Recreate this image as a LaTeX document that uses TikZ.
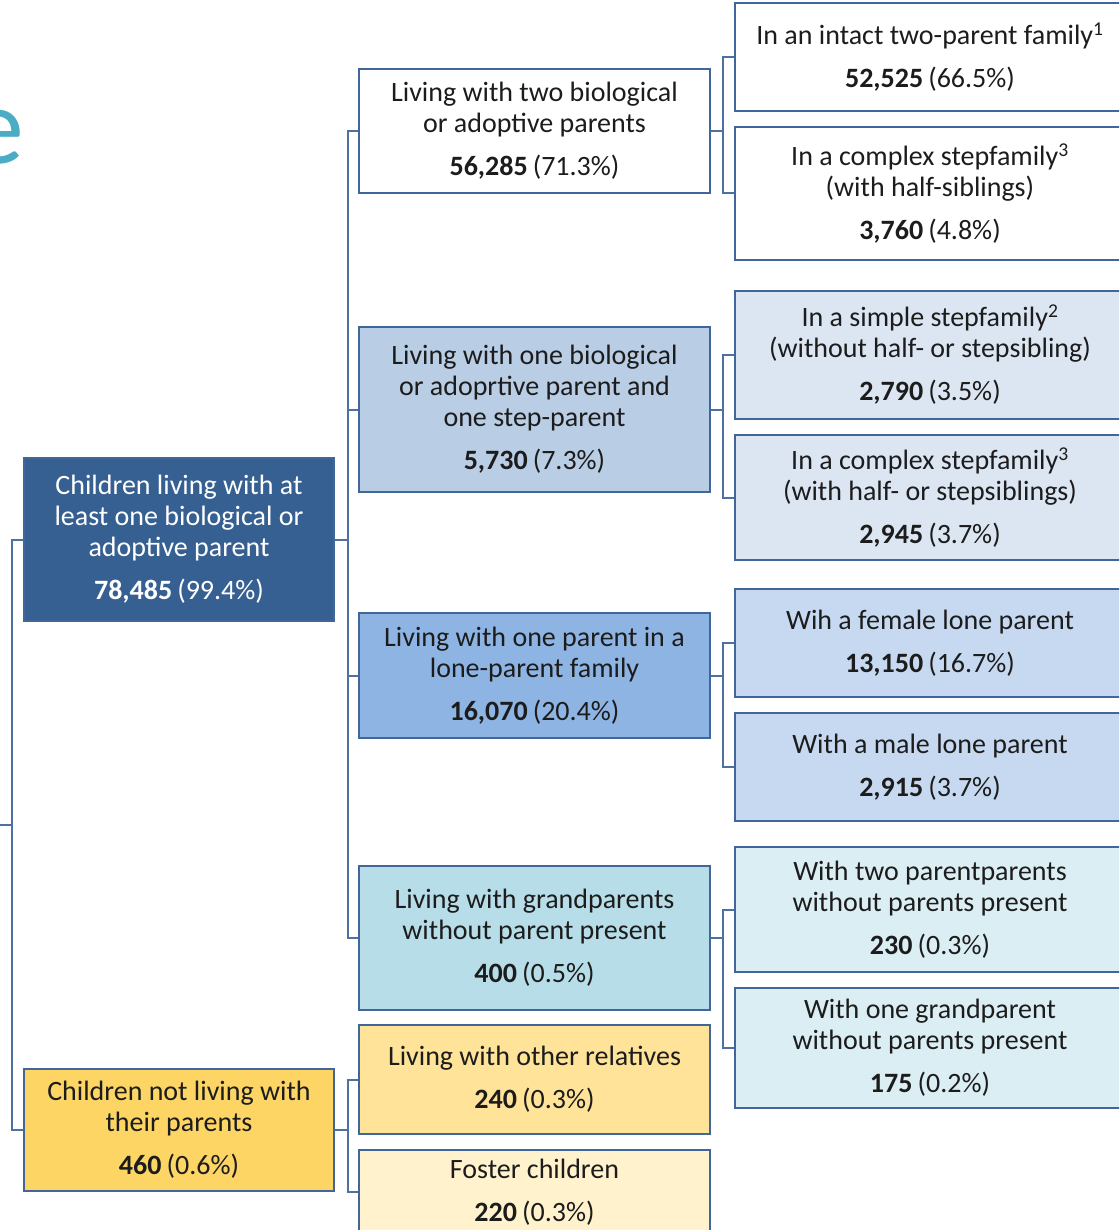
\documentclass[tikz,border=0pt]{standalone}
\usepackage{fontspec}
\setmainfont{Carlito}
\definecolor{boxline}{HTML}{41679A}
\definecolor{linkblue}{HTML}{4F71A2}
\definecolor{textdark}{HTML}{1C1C1C}
\definecolor{titlecyan}{HTML}{4BACC6}
\definecolor{rootblue}{HTML}{376092}
\definecolor{rootgold}{HTML}{FCD564}
\definecolor{stepblue}{HTML}{B9CDE5}
\definecolor{loneblue}{HTML}{8EB4E3}
\definecolor{grandcyan}{HTML}{B7DDE8}
\definecolor{relgold}{HTML}{FEE398}
\definecolor{fostercream}{HTML}{FFF2CC}
\definecolor{palestep}{HTML}{DCE6F2}
\definecolor{palelone}{HTML}{C6D9F1}
\definecolor{palegrand}{HTML}{DBEEF4}
\newcommand{\tally}[2]{\textbf{#1}\hspace{0.18em}(#2)}

\begin{document}
\begin{tikzpicture}[x=1pt, y=-1pt,
	box/.style={draw=boxline, line width=1.3pt, align=center, inner sep=0pt, text=textdark, font=\fontsize{28}{31}\selectfont},
	leftbox/.style={box, minimum width=310pt},
	midbox/.style={box, minimum width=351pt},
	rightbox/.style={box, minimum width=390pt},
	link/.style={draw=linkblue, line width=2pt}]
	\useasboundingbox (0,0) rectangle (1119,1230);
	\clip (0,0) rectangle (1119,1230);
	\node[text=titlecyan, font=\fontsize{110}{110}\selectfont, anchor=base east, inner sep=0pt] (title) at (24,164) {e};
	\node[leftbox, fill=rootblue, text=white, minimum height=163pt] (inpar) at (179,539.5) {Children living with at\\least one biological or\\adoptive parent\\[12pt]\tally{78,485}{99.4\%}};
	\node[leftbox, fill=rootgold, minimum height=122pt] (notpar) at (179,1130) {Children not living with\\their parents\\[12pt]\tally{460}{0.6\%}};
	\node[midbox, fill=white, minimum height=124pt] (twobio) at (534.5,131) {Living with two biological\\or adoptive parents\\[12pt]\tally{56,285}{71.3\%}};
	\node[midbox, fill=stepblue, minimum height=165pt] (stepp) at (534.5,409.5) {Living with one biological\\or adoprtive parent and\\one step-parent\\[12pt]\tally{5,730}{7.3\%}};
	\node[midbox, fill=loneblue, minimum height=125pt] (lone) at (534.5,675.5) {Living with one parent in a\\lone-parent family\\[12pt]\tally{16,070}{20.4\%}};
	\node[midbox, fill=grandcyan, minimum height=144pt] (grand) at (534.5,938) {Living with grandparents\\without parent present\\[12pt]\tally{400}{0.5\%}};
	\node[midbox, fill=relgold, minimum height=109pt] (other) at (534.5,1079.5) {Living with other relatives\\[12pt]\tally{240}{0.3\%}};
	\node[midbox, fill=fostercream, minimum height=84pt] (foster) at (534.5,1192) {Foster children\\[12pt]\tally{220}{0.3\%}};
	\node[rightbox, fill=white, minimum height=108pt] (intact) at (930,57) {In an intact two-parent family\textsuperscript{1}\\[12pt]\tally{52,525}{66.5\%}};
	\node[rightbox, fill=white, minimum height=133pt] (cplxhalf) at (930,193.5) {In a complex stepfamily\textsuperscript{3}\\(with half-siblings)\\[12pt]\tally{3,760}{4.8\%}};
	\node[rightbox, fill=palestep, minimum height=128pt] (simple) at (930,355) {In a simple stepfamily\textsuperscript{2}\\(without half- or stepsibling)\\[12pt]\tally{2,790}{3.5\%}};
	\node[rightbox, fill=palestep, minimum height=125pt] (cplxstep) at (930,497.5) {In a complex stepfamily\textsuperscript{3}\\(with half- or stepsiblings)\\[12pt]\tally{2,945}{3.7\%}};
	\node[rightbox, fill=palelone, minimum height=108pt] (female) at (930,643) {Wih a female lone parent\\[12pt]\tally{13,150}{16.7\%}};
	\node[rightbox, fill=palelone, minimum height=108pt] (male) at (930,767) {With a male lone parent\\[12pt]\tally{2,915}{3.7\%}};
	\node[rightbox, fill=palegrand, minimum height=125pt] (twogp) at (930,909.5) {With two parentparents\\without parents present\\[12pt]\tally{230}{0.3\%}};
	\node[rightbox, fill=palegrand, minimum height=120pt] (onegp) at (930,1048) {With one grandparent\\without parents present\\[12pt]\tally{175}{0.2\%}};
	\coordinate (up) at (0,825);
	\coordinate (upj) at (12,825);
	\draw[link] (up) -- (upj);
	\draw[link] (upj) |- (inpar.west);
	\draw[link] (upj) |- (notpar.west);
	\draw[link] (inpar.east) -- ++(13,0) coordinate (ja) |- (twobio.west);
	\draw[link] (ja) |- (stepp.west);
	\draw[link] (ja) |- (lone.west);
	\draw[link] (ja) |- (grand.west);
	\draw[link] (notpar.east) -- ++(13,0) coordinate (jb) |- (other.west);
	\draw[link] (jb) |- (foster.west);
	\draw[link] (twobio.east) -- ++(12,0) coordinate (jc) |- (intact.west);
	\draw[link] (jc) |- (cplxhalf.west);
	\draw[link] (stepp.east) -- ++(12,0) coordinate (jd) |- (simple.west);
	\draw[link] (jd) |- (cplxstep.west);
	\draw[link] (lone.east) -- ++(12,0) coordinate (je) |- (female.west);
	\draw[link] (je) |- (male.west);
	\draw[link] (grand.east) -- ++(12,0) coordinate (jf) |- (twogp.west);
	\draw[link] (jf) |- (onegp.west);
\end{tikzpicture}
\end{document}
